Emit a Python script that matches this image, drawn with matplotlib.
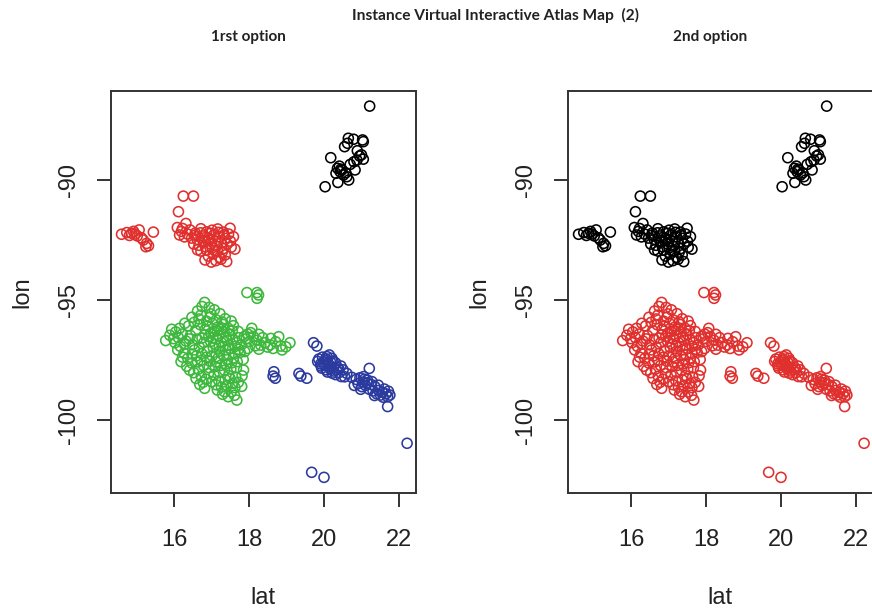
import numpy as np
import matplotlib
matplotlib.use("Agg")
import matplotlib.pyplot as plt

# ---------------- data: (lat, lon) pairs ----------------
black_pts = [(21.22, -86.92), (20.65, -88.26), (20.79, -88.30), (21.03, -88.33), (21.05, -88.40),
             (20.55, -88.61), (20.63, -88.47), (20.89, -88.78), (20.18, -89.07), (21.05, -89.13),
             (20.88, -89.17), (20.80, -89.24), (20.41, -89.42), (20.36, -89.51), (20.48, -89.58),
             (20.83, -89.58), (20.32, -89.72), (20.52, -89.79), (20.66, -90.00), (20.37, -90.10),
             (20.03, -90.28), (20.61, -89.86), (20.43, -89.65), (20.70, -89.35), (20.95, -89.00),
             (20.45, -89.55), (20.58, -89.70), (21.00, -88.95)]

red_pts = [(14.59, -92.26), (14.73, -92.19), (14.86, -92.22), (14.95, -92.25), (15.06, -92.08),
           (15.44, -92.17), (15.17, -92.50), (15.26, -92.64), (15.31, -92.74), (15.24, -92.78),
           (14.80, -92.31), (15.01, -92.33), (14.91, -92.14), (15.12, -92.41),
           (16.24, -90.67), (16.51, -90.67), (16.11, -91.32), (16.31, -91.81),
           (16.08, -91.98), (16.19, -92.14), (16.14, -92.29), (16.27, -92.37), (16.22, -92.02), (16.35, -92.25),
           (16.42, -92.08), (16.56, -92.21), (16.71, -92.03), (16.86, -92.16), (17.01, -92.09), (17.16, -92.04),
           (17.31, -92.17), (17.49, -92.01), (17.58, -92.36), (17.62, -92.88), (17.40, -93.40), (16.82, -93.33),
           (17.11, -93.36), (16.46, -92.42), (16.61, -92.47), (16.76, -92.33), (16.91, -92.41), (17.06, -92.28),
           (17.21, -92.37), (17.36, -92.43), (16.52, -92.67), (16.66, -92.72), (16.81, -92.58), (16.96, -92.66),
           (17.09, -92.53), (17.26, -92.62), (17.41, -92.67), (16.71, -92.96), (16.86, -92.92), (17.01, -92.83),
           (17.16, -92.97), (17.31, -92.86), (16.91, -93.17), (17.04, -93.08), (17.21, -93.22), (17.36, -93.12),
           (16.62, -92.91), (16.99, -93.42), (16.97, -92.22), (17.12, -92.76), (16.77, -92.52), (17.45, -92.25),
           (17.50, -92.55), (17.52, -92.80), (17.28, -93.00), (16.93, -92.50), (17.18, -92.18), (16.70, -92.20),
           (17.25, -93.30), (16.55, -92.30), (17.08, -92.95), (16.83, -92.78), (17.33, -92.28)]

green_pts = [(17.94, -94.69), (18.21, -94.69), (18.25, -94.79), (18.21, -94.93),
             (16.81, -95.10), (16.74, -95.27), (16.93, -95.31), (16.62, -95.46), (16.98, -95.58), (16.47, -95.72),
             (16.71, -95.63), (17.07, -95.41), (17.22, -95.57), (17.36, -95.78), (17.12, -95.83), (16.86, -95.88),
             (16.53, -95.93), (16.28, -95.97), (16.66, -95.79), (16.95, -95.72), (17.28, -95.92), (17.52, -95.88),
             (15.77, -96.69), (15.93, -96.22), (16.04, -96.33), (16.11, -96.57), (15.88, -96.47), (16.02, -96.78),
             (16.21, -96.42), (16.16, -96.93), (16.09, -97.08), (16.26, -97.22), (16.18, -97.57), (16.33, -97.76),
             (16.41, -97.92), (16.36, -97.43), (16.47, -97.63), (16.14, -96.18), (15.98, -96.61), (16.27, -96.84),
             (16.22, -97.38), (16.52, -98.03), (16.58, -98.27),
             (16.38, -96.08), (16.57, -96.27), (16.69, -96.03), (16.83, -96.22), (17.02, -95.98), (17.16, -96.13),
             (17.31, -96.02), (17.44, -96.18), (17.58, -96.07), (17.71, -96.31), (17.49, -96.42), (17.33, -96.33),
             (17.19, -96.47), (17.06, -96.31), (16.92, -96.52), (16.74, -96.58), (16.61, -96.63), (16.43, -96.48),
             (16.31, -96.71), (16.49, -96.87), (16.67, -96.97), (16.79, -96.77), (16.97, -96.73), (17.12, -96.62),
             (17.26, -96.78), (17.41, -96.68), (17.56, -96.63), (17.72, -96.57), (17.87, -96.52), (17.79, -96.87),
             (17.63, -96.93), (17.48, -97.02), (17.37, -97.07), (17.21, -97.13), (17.04, -96.98), (16.88, -97.12),
             (16.73, -97.23), (16.59, -97.33), (16.54, -97.08), (16.71, -97.52), (16.86, -97.38), (17.01, -97.33),
             (17.17, -97.42), (17.32, -97.32), (17.46, -97.28), (17.62, -97.23), (17.76, -97.18), (17.84, -97.48),
             (17.68, -97.57), (17.53, -97.62), (17.38, -97.67), (17.24, -97.72), (17.09, -97.77), (16.93, -97.82),
             (16.78, -97.73), (16.64, -97.88),
             (17.25, -96.22), (17.38, -96.55), (17.10, -96.85), (16.98, -96.38), (17.55, -96.28), (17.66, -96.78),
             (17.45, -96.88), (17.30, -96.95), (17.15, -96.28), (16.88, -96.08), (17.03, -96.58), (17.20, -96.92),
             (16.82, -96.45), (16.95, -97.55), (17.12, -97.58), (17.40, -97.48), (17.58, -97.42), (16.62, -97.58),
             (16.48, -97.25), (16.40, -96.62), (17.72, -97.05), (17.92, -96.62), (17.88, -97.15),
             (16.72, -98.18), (16.81, -98.68), (16.77, -98.43), (16.91, -98.07), (17.06, -98.12), (17.21, -98.02),
             (17.34, -97.93), (17.51, -97.88), (17.66, -97.83), (17.85, -97.92), (17.81, -98.16), (17.64, -98.21),
             (17.49, -98.27), (17.36, -98.32), (17.19, -98.37), (17.11, -98.53), (17.26, -98.63), (17.41, -98.57),
             (17.56, -98.48), (17.71, -98.43), (17.34, -98.82), (17.52, -98.83), (17.44, -99.03), (17.61, -98.97),
             (17.67, -99.17), (17.29, -98.93), (16.68, -98.52), (16.85, -98.30), (17.00, -98.40), (17.15, -98.75),
             (17.45, -98.15), (17.62, -98.65), (17.80, -98.60),
             (17.96, -96.42), (18.07, -96.18), (18.04, -96.36), (18.11, -96.52), (18.26, -96.43), (18.36, -96.57),
             (18.21, -96.68), (18.42, -96.78), (18.56, -96.87), (18.71, -96.74), (18.79, -96.53), (18.84, -96.92),
             (19.09, -96.78), (18.88, -97.08), (18.64, -97.02), (18.49, -96.96), (18.31, -96.88), (18.01, -96.73),
             (18.16, -96.91), (17.96, -97.02), (18.58, -96.60), (18.98, -96.95), (18.26, -97.05)]

blue_pts = [(19.72, -96.78), (19.81, -96.92), (18.66, -97.99), (18.64, -98.17), (18.70, -98.26),
            (19.33, -98.06), (19.38, -98.17), (19.54, -98.26),
            (20.14, -97.29), (19.86, -97.46), (19.96, -97.38), (20.04, -97.52), (20.21, -97.43), (20.31, -97.62),
            (19.91, -97.66), (20.01, -97.71), (20.11, -97.63), (20.19, -97.77), (20.36, -97.81), (19.94, -97.84),
            (20.06, -97.91), (20.16, -97.86), (20.26, -97.96), (20.41, -98.02), (20.51, -97.91), (20.46, -98.19),
            (20.31, -98.11), (20.61, -98.06), (19.83, -97.56), (20.08, -97.36), (20.24, -97.54), (19.99, -97.58),
            (20.13, -97.74), (20.05, -97.45), (20.18, -97.60), (20.33, -97.92), (20.22, -98.05), (20.45, -97.75),
            (19.92, -97.75), (20.09, -98.00), (20.40, -97.88), (20.55, -98.20),
            (20.74, -98.22), (20.86, -98.31), (20.96, -98.24), (21.04, -98.42), (21.16, -98.34), (21.26, -98.52),
            (20.91, -98.49), (21.01, -98.61), (21.11, -98.56), (21.21, -98.72), (21.36, -98.61), (21.46, -98.77),
            (21.56, -98.84), (21.66, -98.91), (21.76, -98.96), (21.61, -98.71), (21.41, -98.91), (21.31, -98.79),
            (21.70, -99.03), (21.51, -98.96), (20.81, -98.56), (21.06, -98.19), (21.15, -98.45), (21.28, -98.40),
            (21.45, -98.55), (21.72, -98.80), (20.98, -98.72), (21.58, -99.05), (21.35, -98.98), (21.08, -98.30),
            (21.21, -97.85), (21.70, -99.44), (22.22, -100.97), (19.67, -102.18), (20.00, -102.39)]

x_ticks = [16, 18, 20, 22]
y_ticks = [-90, -95, -100]

C_BLACK = "#000000"
C_RED = "#E0302E"
C_GREEN = "#3DB83D"
C_BLUE = "#2B3A9E"

# ---------------- figure ----------------
W, H = 872, 613
fig = plt.figure(figsize=(W / 100, H / 100), dpi=100)

def px_axes(x0, x1, y0, y1):
    return fig.add_axes([x0 / W, 1 - y1 / H, (x1 - x0) / W, (y1 - y0) / H])

ax1 = px_axes(110.7, 415.7, 91, 492.7)
ax2 = px_axes(567.7, 872.7, 91, 492.7)

S = 52
LW = 1.15

def sc(ax, pts, c):
    la = [p[0] for p in pts]
    lo = [p[1] for p in pts]
    ax.scatter(la, lo, s=S, facecolors="none", edgecolors=c, linewidths=LW)

sc(ax1, black_pts, C_BLACK)
sc(ax1, red_pts, C_RED)
sc(ax1, green_pts, C_GREEN)
sc(ax1, blue_pts, C_BLUE)

sc(ax2, black_pts + red_pts, C_BLACK)
sc(ax2, green_pts + blue_pts, C_RED)

for ax in (ax1, ax2):
    ax.set_xlim(14.30, 22.45)
    ax.set_ylim(-103.03, -86.29)
    ax.set_xticks(x_ticks)
    ax.set_yticks(y_ticks)
    ax.set_xticklabels([str(t) for t in x_ticks], fontfamily="Liberation Sans", fontsize=17, color="#222222")
    ax.set_yticklabels([str(t) for t in y_ticks], fontfamily="Liberation Sans", fontsize=17,
                       rotation=90, va="center", color="#222222")
    ax.tick_params(axis="both", direction="out", length=10, width=1.4, color="#333333")
    ax.tick_params(axis="x", pad=16)
    ax.tick_params(axis="y", pad=12)
    for sp in ax.spines.values():
        sp.set_linewidth(1.4)
        sp.set_color("#333333")
    ax.set_xlabel("lat", fontfamily="Liberation Sans", fontsize=17, color="#222222")
    ax.xaxis.set_label_coords(0.5, -0.263)
    ax.xaxis.label.set_va("center")
    ax.set_ylabel("lon", fontfamily="Liberation Sans", fontsize=17, color="#222222")
    ax.yaxis.label.set_va("center")

ax1.yaxis.set_label_coords(-(110.7 - 22) / 305, 0.5)
ax2.yaxis.set_label_coords(-(567.7 - 479) / 305, 0.5)

fig.text(495 / W, 1 - 15 / H, "Instance Virtual Interactive Atlas Map  (2)", ha="center", va="center",
         fontfamily="Lato", fontweight="bold", fontsize=11.2, color="#222222")
fig.text(248.5 / W, 1 - 37 / H, "1rst option", ha="center", va="center",
         fontfamily="Lato", fontweight="bold", fontsize=11, color="#222222")
fig.text(710 / W, 1 - 37 / H, "2nd option", ha="center", va="center",
         fontfamily="Lato", fontweight="bold", fontsize=11, color="#222222")

fig.savefig("out.png", dpi=100)
